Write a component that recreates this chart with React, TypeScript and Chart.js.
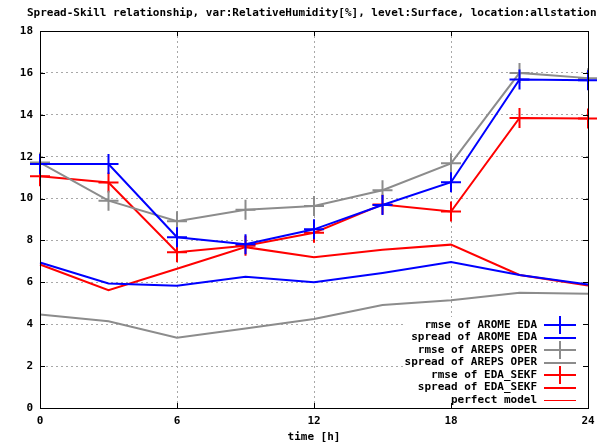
import React, { useEffect, useRef } from "react";
import { Chart, registerables } from "chart.js";

Chart.register(...registerables);

// Forecast lead times (hours)
const hours = [0, 3, 6, 9, 12, 15, 18, 21, 24];

// Relative humidity [%] scores per lead time
const rmseArome = [11.65, 11.65, 8.15, 7.82, 8.53, 9.69, 10.78, 15.69, 15.65];
const spreadArome = [6.95, 5.95, 5.84, 6.27, 6.0, 6.45, 6.97, 6.35, 5.9];
const rmseAreps = [11.72, 9.9, 8.92, 9.47, 9.64, 10.4, 11.68, 16.0, 15.75];
const spreadAreps = [4.46, 4.14, 3.35, 3.8, 4.25, 4.92, 5.14, 5.5, 5.45];
const rmseSekf = [11.07, 10.77, 7.44, 7.75, 8.37, 9.72, 9.38, 13.85, 13.82];
const spreadSekf = [6.85, 5.62, 6.65, 7.68, 7.2, 7.55, 7.8, 6.35, 5.85];
const perfectModel: number[] = [];

const xTicks = [0, 6, 12, 18, 24];
const yTicks = [0, 2, 4, 6, 8, 10, 12, 14, 16, 18];

const seriesNames = [
  "rmse of AROME EDA",
  "spread of AROME EDA",
  "rmse of AREPS OPER",
  "spread of AREPS OPER",
  "rmse of EDA_SEKF",
  "spread of EDA_SEKF",
  "perfect model",
];

const titleText =
  "Spread-Skill relationship, var:RelativeHumidity[%], level:Surface, location:allstations";
const xTitle = "time [h]";

const BLUE = "#0000ff";
const GRAY = "#8c8c8c";
const RED = "#ff0000";
const FONT = "bold 11px 'DejaVu Sans Mono', monospace";

const toPoints = (vals: number[]) => vals.map((v, i) => ({ x: hours[i], y: v }));

const frame = {
  id: "frame",
  beforeDatasetsDraw(chart: any) {
    const { ctx, chartArea } = chart;
    // clear the key area so the grid does not run behind it
    ctx.save();
    ctx.fillStyle = "#ffffff";
    ctx.fillRect(405, 317, chartArea.right - 405, chartArea.bottom - 317 - 1);
    ctx.restore();
  },
  afterDraw(chart: any) {
    const { ctx, chartArea, scales } = chart;
    const { left, right, top, bottom } = chartArea;
    ctx.save();
    ctx.strokeStyle = "#000";
    ctx.lineWidth = 1;
    ctx.strokeRect(Math.round(left) + 0.5, Math.round(top) + 0.5, Math.round(right - left), Math.round(bottom - top));

    // inward, mirrored tick marks
    ctx.beginPath();
    for (const v of yTicks) {
      const y = Math.round(scales.y.getPixelForValue(v)) + 0.5;
      ctx.moveTo(left, y);
      ctx.lineTo(left + 5, y);
      ctx.moveTo(right, y);
      ctx.lineTo(right - 5, y);
    }
    for (const v of xTicks) {
      const x = Math.round(scales.x.getPixelForValue(v)) + 0.5;
      ctx.moveTo(x, bottom);
      ctx.lineTo(x, bottom - 5);
      ctx.moveTo(x, top);
      ctx.lineTo(x, top + 5);
    }
    ctx.stroke();

    ctx.fillStyle = "#000";
    ctx.font = FONT;
    ctx.textBaseline = "middle";
    ctx.textAlign = "left";
    ctx.fillText(titleText, 27, 13);
    ctx.textAlign = "center";
    ctx.fillText(xTitle, (left + right) / 2, 437);

    // key
    const rowY0 = 325;
    const rowH = 12.5;
    chart.data.datasets.forEach((ds: any, i: number) => {
      const y = rowY0 + i * rowH;
      ctx.fillStyle = "#000";
      ctx.textAlign = "right";
      ctx.fillText(seriesNames[i], 537, y);
      ctx.strokeStyle = ds.borderColor;
      ctx.lineWidth = ds.borderWidth;
      ctx.beginPath();
      const yy = Math.round(y) + (ds.borderWidth === 1 ? 0.5 : 0);
      ctx.moveTo(544, yy);
      ctx.lineTo(576, yy);
      ctx.stroke();
      if (ds.pointRadius > 0) {
        ctx.beginPath();
        ctx.moveTo(560, y - 9);
        ctx.lineTo(560, y + 9);
        ctx.stroke();
      }
    });
    ctx.restore();
  },
};

function lineSet(label: string, vals: number[], color: string, marked: boolean, width = 2) {
  return {
    label,
    data: toPoints(vals),
    borderColor: color,
    backgroundColor: color,
    borderWidth: width,
    pointStyle: "cross",
    pointRadius: marked ? 10 : 0,
    pointHoverRadius: marked ? 10 : 0,
    pointBorderWidth: 2,
    pointBorderColor: color,
    tension: 0,
    clip: false,
  };
}

export default function App() {
  const ref = useRef<HTMLCanvasElement>(null);

  useEffect(() => {
    if (!ref.current) return;
    const chart = new Chart(ref.current, {
      type: "line",
      data: {
        datasets: [
          lineSet(seriesNames[0], rmseArome, BLUE, true),
          lineSet(seriesNames[1], spreadArome, BLUE, false),
          lineSet(seriesNames[2], rmseAreps, GRAY, true),
          lineSet(seriesNames[3], spreadAreps, GRAY, false),
          lineSet(seriesNames[4], rmseSekf, RED, true),
          lineSet(seriesNames[5], spreadSekf, RED, false),
          lineSet(seriesNames[6], perfectModel, RED, false, 1),
        ] as any,
      },
      options: {
        responsive: false,
        animation: false,
        devicePixelRatio: 1,
        layout: { autoPadding: false, padding: { top: 31, right: 9, left: 0, bottom: 0 } },
        plugins: {
          legend: { display: false },
          title: { display: false },
          tooltip: { enabled: false },
        },
        events: [],
        scales: {
          x: {
            type: "linear",
            min: 0,
            max: 24,
            afterBuildTicks: (s: any) => {
              s.ticks = xTicks.map((v) => ({ value: v }));
            },
            afterFit: (s: any) => {
              s.height = 38;
              s.paddingLeft = 0;
              s.paddingRight = 0;
            },
            ticks: {
              color: "#000",
              font: { family: "'DejaVu Sans Mono', monospace", size: 11, weight: "bold" },
              padding: 7,
              maxRotation: 0,
            },
            grid: { color: "#a8a8a8", lineWidth: 1, drawTicks: false },
            border: { display: true, color: "#000", width: 1, dash: [2, 3] },
          },
          y: {
            type: "linear",
            min: 0,
            max: 18,
            afterBuildTicks: (s: any) => {
              s.ticks = yTicks.map((v) => ({ value: v }));
            },
            afterFit: (s: any) => {
              s.width = 40;
              s.paddingTop = 0;
              s.paddingBottom = 0;
            },
            ticks: {
              color: "#000",
              font: { family: "'DejaVu Sans Mono', monospace", size: 11, weight: "bold" },
              padding: 7,
            },
            grid: { color: "#a8a8a8", lineWidth: 1, drawTicks: false },
            border: { display: true, color: "#000", width: 1, dash: [2, 3] },
          },
        },
      },
      plugins: [frame],
    });
    return () => chart.destroy();
  }, []);

  return (
    <div style={{ position: "fixed", left: 0, top: 0, width: 597, height: 446, background: "#fff" }}>
      <canvas ref={ref} width={597} height={446} style={{ display: "block" }} />
    </div>
  );
}
